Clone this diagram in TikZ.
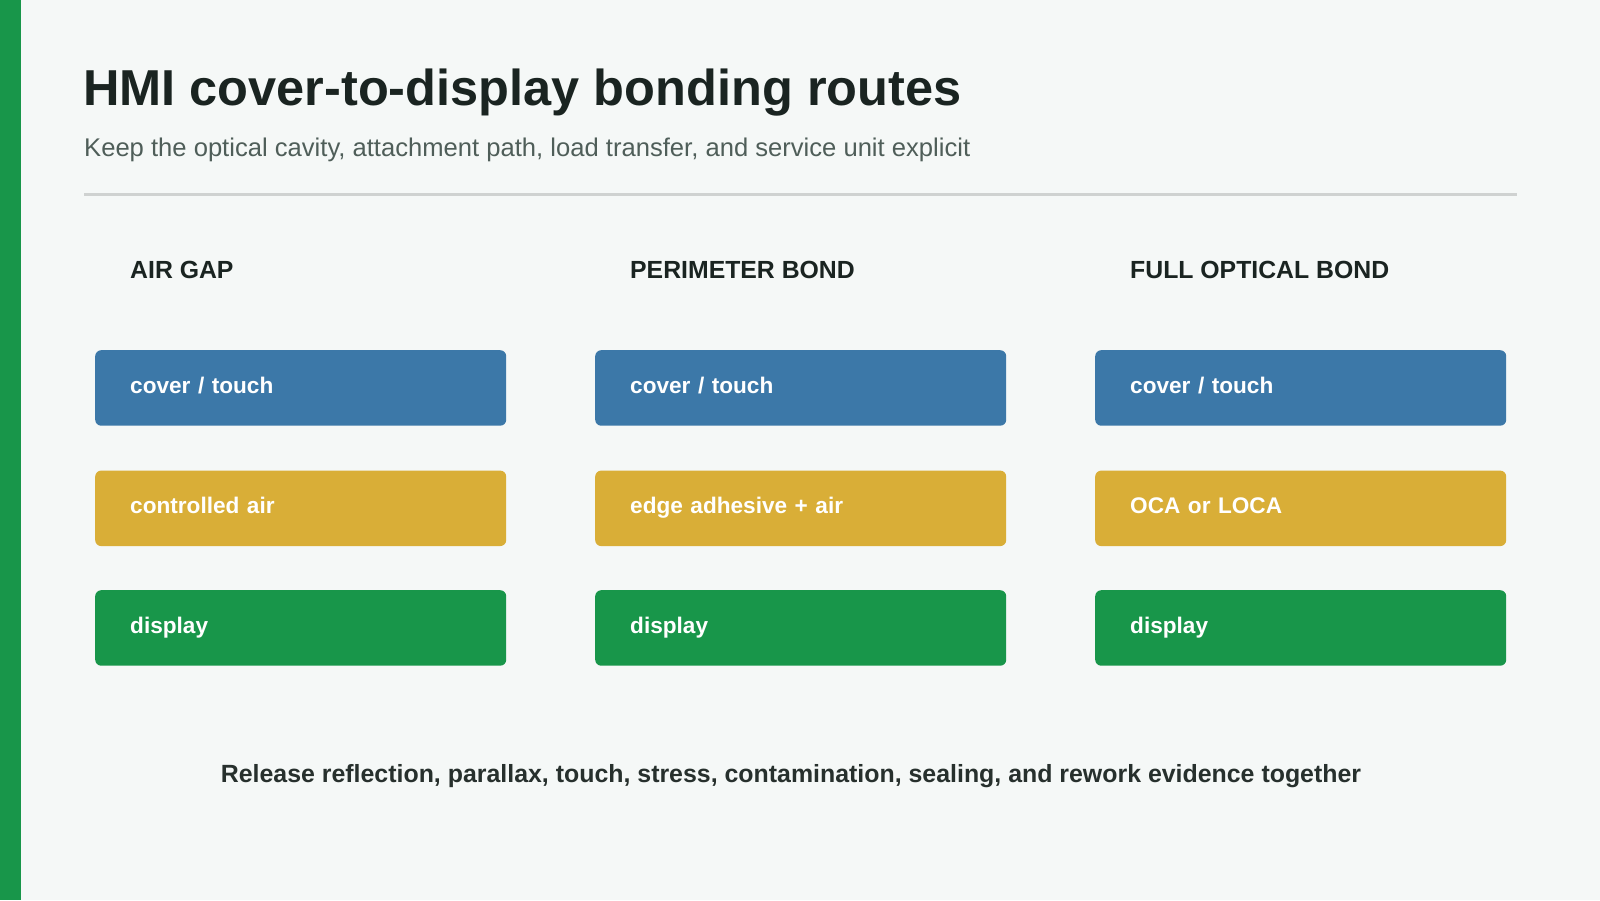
\documentclass[tikz,border=0pt]{standalone}
\usepackage{fontspec}
\setmainfont{Liberation Sans}
\definecolor{bgc}{HTML}{F5F8F7}
\definecolor{barc}{HTML}{18964A}
\definecolor{titlec}{HTML}{1A2421}
\definecolor{subc}{HTML}{4F5E59}
\definecolor{rulec}{HTML}{CFD2D1}
\definecolor{footc}{HTML}{27302D}
\definecolor{bluec}{HTML}{3C78A8}
\definecolor{yellowc}{HTML}{D9AE37}
\definecolor{greenc}{HTML}{18964A}
\tikzset{
  layerbox/.style={anchor=north west, rounded corners=6bp, minimum width=411bp, minimum height=75.5bp,
    inner xsep=35bp, inner ysep=0pt, text width=341bp, align=left, text=white,
    text height=15bp, text depth=4bp, font=\fontsize{22.6bp}{27bp}\selectfont\bfseries},
  colhead/.style={anchor=base west, inner sep=0pt, text=titlec, font=\fontsize{24.8bp}{30bp}\selectfont\bfseries},
}
\begin{document}
\begin{tikzpicture}[x=1bp,y=-1bp]
\useasboundingbox (0,0) rectangle (1600,900);
\fill[bgc] (0,0) rectangle (1600,900);
\fill[barc] (0,0) rectangle (21,900);
\node[anchor=base west, inner sep=0pt, text=titlec, font=\fontsize{50.5bp}{60bp}\selectfont\bfseries] (title) at (83,105) {HMI cover-to-display bonding routes};
\node[anchor=base west, inner sep=0pt, text=subc, font=\fontsize{25.6bp}{30bp}\selectfont] (sub) at (84,156) {Keep the optical cavity, attachment path, load transfer, and service unit explicit};
\draw[rulec, line width=3bp] (84,194) -- (1517,194);
\node[colhead] (h1) at (130,278.5) {AIR GAP};
\node[colhead] (h2) at (630,278.5) {PERIMETER BOND};
\node[colhead] (h3) at (1130,278.5) {FULL OPTICAL BOND};
\node[layerbox, fill=bluec] (a1) at (95,350) {cover / touch};
\node[layerbox, fill=yellowc] (a2) at (95,470.4) {controlled air};
\node[layerbox, fill=greenc] (a3) at (95,590) {display};
\node[layerbox, fill=bluec] (b1) at (595,350) {cover / touch};
\node[layerbox, fill=yellowc] (b2) at (595,470.4) {edge adhesive + air};
\node[layerbox, fill=greenc] (b3) at (595,590) {display};
\node[layerbox, fill=bluec] (c1) at (1095,350) {cover / touch};
\node[layerbox, fill=yellowc] (c2) at (1095,470.4) {OCA or LOCA};
\node[layerbox, fill=greenc] (c3) at (1095,590) {display};
\node[anchor=base, inner sep=0pt, text=footc, font=\fontsize{24.9bp}{30bp}\selectfont\bfseries] (foot) at (791,782.5) {Release reflection, parallax, touch, stress, contamination, sealing, and rework evidence together};
\end{tikzpicture}
\end{document}
